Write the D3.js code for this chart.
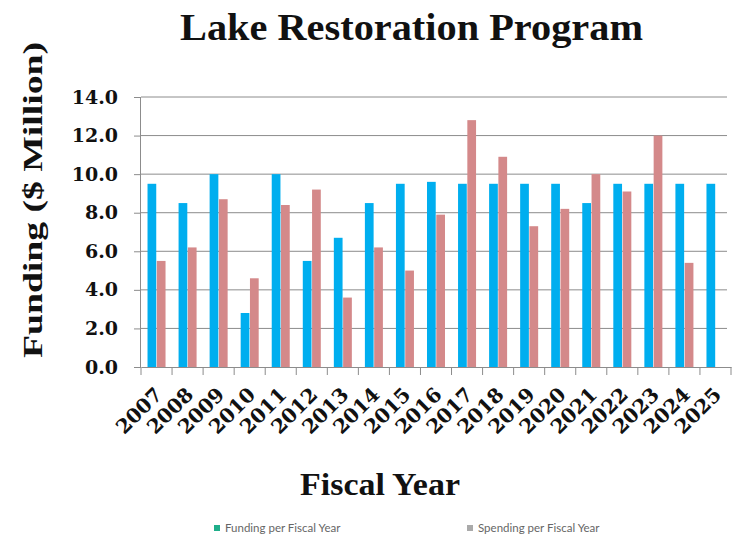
<!DOCTYPE html>
<html>
<head>
<meta charset="utf-8">
<script src="https://cdnjs.cloudflare.com/ajax/libs/d3/7.8.5/d3.min.js"></script>
<style>
  html, body { margin: 0; padding: 0; background: #fff; }
  svg { display: block; }
</style>
</head>
<body>
<svg id="chart" width="745" height="535"></svg>
<script>
const years = ["2007","2008","2009","2010","2011","2012","2013","2014","2015","2016","2017","2018","2019","2020","2021","2022","2023","2024","2025"];
const funding  = [9.5, 8.5, 10.0, 2.8, 10.0, 5.5, 6.7, 8.5, 9.5, 9.6, 9.5, 9.5, 9.5, 9.5, 8.5, 9.5, 9.5, 9.5, 9.5];
const spending = [5.5, 6.2, 8.7, 4.6, 8.4, 9.2, 3.6, 6.2, 5.0, 7.9, 12.8, 10.9, 7.3, 8.2, 10.0, 9.1, 12.0, 5.4, null];
const yTicks = [0, 2, 4, 6, 8, 10, 12, 14];
const seriesNames = ["Funding per Fiscal Year", "Spending per Fiscal Year"];

const svg = d3.select("#chart");
const pLeft = 141, pRight = 731, pTop = 97, pBottom = 367;

const x0 = d3.scaleBand().domain(years).range([pLeft, pRight]).paddingInner(0.42).paddingOuter(0.21);
const x1 = d3.scaleBand().domain(["f", "s"]).range([0, x0.bandwidth()]).paddingInner(0.06);
const y = d3.scaleLinear().domain([0, 14]).range([pBottom, pTop]);

// gridlines
svg.append("g").selectAll("line").data(yTicks.filter(d => d > 0)).join("line")
  .attr("x1", pLeft).attr("x2", 727)
  .attr("y1", d => y(d)).attr("y2", d => y(d))
  .attr("stroke", "#8c8c8c").attr("stroke-width", 1);

// bars
const rows = years.map((yr, i) => ({ yr, f: funding[i], s: spending[i] }));
const g = svg.append("g");
g.selectAll("rect.f").data(rows).join("rect").attr("class", "f")
  .attr("x", d => x0(d.yr) + x1("f")).attr("width", x1.bandwidth())
  .attr("y", d => y(d.f)).attr("height", d => y(0) - y(d.f))
  .attr("fill", "#00AEEF");
g.selectAll("rect.s").data(rows.filter(d => d.s != null)).join("rect").attr("class", "s")
  .attr("x", d => x0(d.yr) + x1("s")).attr("width", x1.bandwidth())
  .attr("y", d => y(d.s)).attr("height", d => y(0) - y(d.s))
  .attr("fill", "#D4898A");

// y axis
const yAxis = d3.axisLeft(y).tickValues(yTicks).tickFormat(d3.format(".1f")).tickSize(7).tickPadding(16);
const ya = svg.append("g").attr("transform", `translate(${pLeft},0)`).call(yAxis);
ya.select(".domain").attr("stroke", "#8c8c8c").attr("d", `M-0.5,${pTop}V${pBottom}`);
ya.selectAll(".tick line").attr("stroke", "#8c8c8c");
ya.selectAll(".tick text").attr("fill", "#111")
  .style("font-family", "DejaVu Serif").style("font-weight", "bold").style("font-size", "19px");

// x axis
const xAxis = d3.axisBottom(x0).tickSize(0).tickFormat("");
const xa = svg.append("g").attr("transform", `translate(0,${pBottom})`).call(xAxis);
xa.select(".domain").attr("stroke", "#8c8c8c");
xa.selectAll(".tick").remove();
const step = x0.step();
svg.append("g").selectAll("line").data(d3.range(years.length + 1)).join("line")
  .attr("x1", i => pLeft + i * step).attr("x2", i => pLeft + i * step)
  .attr("y1", pBottom).attr("y2", pBottom + 8)
  .attr("stroke", "#8c8c8c");
svg.append("g").selectAll("text").data(years).join("text")
  .attr("transform", d => `translate(${x0(d) + x0.bandwidth() / 2 + 7},396) rotate(-45)`)
  .attr("text-anchor", "end")
  .style("font-family", "DejaVu Serif").style("font-weight", "bold").style("font-size", "20px")
  .attr("fill", "#111")
  .text(d => d);

// title
svg.append("text").attr("x", 180).attr("y", 40)
  .attr("textLength", 463).attr("lengthAdjust", "spacingAndGlyphs")
  .style("font-family", "Liberation Serif").style("font-weight", "bold").style("font-size", "37px")
  .attr("fill", "#111").text("Lake Restoration Program");

// y title
svg.append("text").attr("transform", "translate(42,200) rotate(-90)")
  .attr("text-anchor", "middle")
  .attr("textLength", 316).attr("lengthAdjust", "spacingAndGlyphs")
  .style("font-family", "Liberation Serif").style("font-weight", "bold").style("font-size", "27px")
  .attr("fill", "#111").text("Funding ($ Million)");

// x title
svg.append("text").attr("x", 300).attr("y", 495)
  .attr("textLength", 160).attr("lengthAdjust", "spacingAndGlyphs")
  .style("font-family", "Liberation Serif").style("font-weight", "bold").style("font-size", "32px")
  .attr("fill", "#111").text("Fiscal Year");

// legend
const legend = [
  { name: seriesNames[0], color: "#1fae8a", x: 214 },
  { name: seriesNames[1], color: "#aaaaaa", x: 467 }
];
const lg = svg.append("g").selectAll("g").data(legend).join("g")
  .attr("transform", d => `translate(${d.x},0)`);
lg.append("rect").attr("x", 0).attr("y", 525).attr("width", 6).attr("height", 6).attr("fill", d => d.color);
lg.append("text").attr("x", 11).attr("y", 532)
  .style("font-family", "Lato").style("font-size", "11.5px")
  .attr("fill", "#666").text(d => d.name);
</script>
</body>
</html>
